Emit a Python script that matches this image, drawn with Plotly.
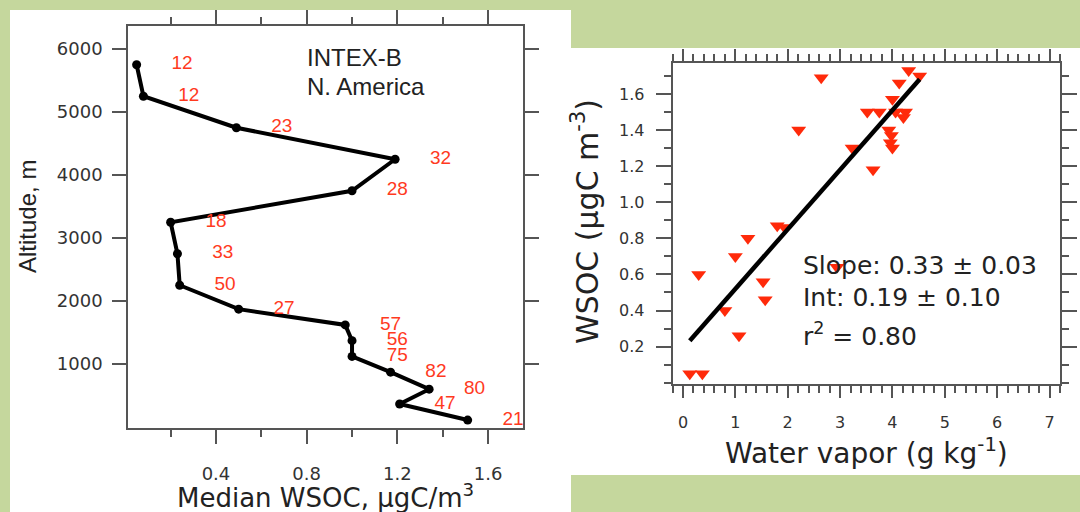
import plotly.graph_objects as go

# ---- Left panel: median WSOC vertical profile (INTEX-B, N. America) ----
altitude_m = [5750, 5250, 4750, 4250, 3750, 3250, 2750, 2250, 1870, 1620, 1370, 1120, 870, 600, 365, 110]
median_wsoc = [0.05, 0.08, 0.49, 1.19, 1.00, 0.20, 0.23, 0.24, 0.50, 0.97, 1.00, 1.00, 1.17, 1.34, 1.21, 1.51]
sample_counts = [12, 12, 23, 32, 28, 18, 33, 50, 27, 57, 56, 75, 82, 80, 47, 21]
altitude_ticks = [1000, 2000, 3000, 4000, 5000, 6000]
wsoc_ticks = [0.4, 0.8, 1.2, 1.6]

# ---- Right panel: WSOC against water vapor with a linear fit ----
water_vapor = [2.64, 4.31, 4.52, 4.13, 4.00, 3.52, 3.75, 4.06, 4.25, 4.21,
               2.21, 3.93, 3.98, 3.96, 4.00, 3.23, 3.63, 1.80, 1.94, 1.24,
               1.00, 0.30, 1.53, 1.57, 0.80, 1.07, 0.13, 0.37, 2.94]
wsoc = [1.69, 1.73, 1.70, 1.66, 1.57, 1.50, 1.50, 1.50, 1.50, 1.47,
        1.40, 1.40, 1.37, 1.33, 1.30, 1.30, 1.18, 0.87, 0.86, 0.80,
        0.70, 0.60, 0.56, 0.46, 0.40, 0.26, 0.05, 0.05, 0.64]
fit_slope = 0.33
fit_intercept = 0.19
fit_x = [0.13, 4.52]
fit_y = [fit_intercept + fit_slope * v for v in fit_x]
vapor_ticks = [0, 1, 2, 3, 4, 5, 6, 7]
wsoc_scatter_ticks = [0.2, 0.4, 0.6, 0.8, 1.0, 1.2, 1.4, 1.6]

W, H = 1080, 512
GREEN = "#c5d79d"
RED_TEXT = "#ff3a1e"
RED_MARK = "#ff2a0a"
INK = "#222222"
TICK_INK = "#333333"
AXIS = "#555555"
NARROW = "Liberation Sans, Arial, sans-serif"
WIDE = "DejaVu Sans, sans-serif"


def fx(px):
    return px / W


def fy(py):
    return 1 - py / H


fig = go.Figure()

fig.add_trace(go.Scatter(
    x=median_wsoc, y=altitude_m, mode="lines+markers",
    line=dict(color="black", width=4),
    marker=dict(color="black", size=9),
    xaxis="x", yaxis="y", showlegend=False, hoverinfo="skip",
))
fig.add_trace(go.Scatter(
    x=[v + 0.2 for v in median_wsoc], y=altitude_m, mode="text",
    text=[str(n) for n in sample_counts], textposition="middle center",
    textfont=dict(color=RED_TEXT, size=19, family=NARROW),
    xaxis="x", yaxis="y", showlegend=False, hoverinfo="skip",
))

fig.add_trace(go.Scatter(
    x=water_vapor, y=wsoc, mode="markers",
    marker=dict(symbol="triangle-down", color=RED_MARK, size=13, line=dict(width=0)),
    xaxis="x2", yaxis="y2", showlegend=False, hoverinfo="skip",
))
fig.add_trace(go.Scatter(
    x=fit_x, y=fit_y, mode="lines",
    line=dict(color="black", width=4.5),
    xaxis="x2", yaxis="y2", showlegend=False, hoverinfo="skip",
))

axis_common = dict(
    showline=True, linecolor=AXIS, linewidth=1.5, mirror="ticks",
    ticks="outside", tickcolor=AXIS, tickwidth=1.5,
    showgrid=False, zeroline=False,
)

fig.update_layout(
    width=W, height=H,
    margin=dict(l=0, r=0, t=0, b=0),
    paper_bgcolor=GREEN, plot_bgcolor="white",
    font=dict(family=NARROW, color=INK),
    xaxis=dict(
        domain=[fx(128), fx(523)], range=[0.012, 1.754], anchor="y",
        tickvals=wsoc_ticks, ticktext=[f"{v:.1f}" for v in wsoc_ticks], ticklen=14,
        minor=dict(dtick=0.2, tick0=0.2, ticklen=7, tickcolor=AXIS, tickwidth=1.5, ticks="outside"),
        tickfont=dict(size=18, color=TICK_INK, family=WIDE), ticklabelstandoff=15,
        **axis_common,
    ),
    yaxis=dict(
        domain=[fy(428), fy(26)], range=[-16, 6365], anchor="x",
        tickvals=altitude_ticks, ticklen=14,
        tickfont=dict(size=18, color=TICK_INK, family=WIDE), ticklabelstandoff=6,
        **axis_common,
    ),
    xaxis2=dict(
        domain=[fx(672.5), fx(1060)], range=[-0.2, 7.2], anchor="y2",
        tickvals=vapor_ticks, ticklen=12,
        minor=dict(dtick=0.2, tick0=0, ticklen=7, tickcolor=AXIS, tickwidth=1.5, ticks="outside"),
        tickfont=dict(size=16, color=TICK_INK, family=WIDE), ticklabelstandoff=11,
        **axis_common,
    ),
    yaxis2=dict(
        domain=[fy(384), fy(62.7)], range=[-0.007, 1.773], anchor="x2",
        tickvals=wsoc_scatter_ticks, ticktext=[f"{v:.1f}" for v in wsoc_scatter_ticks], ticklen=15,
        minor=dict(dtick=0.1, tick0=0.1, ticklen=7, tickcolor=AXIS, tickwidth=1.5, ticks="outside"),
        tickfont=dict(size=16, color=TICK_INK, family=WIDE), ticklabelstandoff=8,
        **axis_common,
    ),
    shapes=[
        dict(type="rect", xref="paper", yref="paper", x0=fx(10), x1=fx(571), y0=fy(512), y1=fy(10),
             fillcolor="white", line=dict(width=0), layer="below"),
        dict(type="rect", xref="paper", yref="paper", x0=fx(571), x1=fx(1080), y0=fy(475), y1=fy(48),
             fillcolor="white", line=dict(width=0), layer="below"),
    ],
)

annotations = [
    # left panel titles and legend text
    dict(text="Altitude, m", x=fx(27), y=fy(217), textangle=-90, font=dict(size=24)),
    dict(text="Median WSOC, µgC/m<sup>3</sup>", x=fx(325), y=fy(496), font=dict(size=26, family=WIDE)),
    dict(text="INTEX-B", x=fx(305), y=fy(57), xanchor="left", font=dict(size=24)),
    dict(text="N. America", x=fx(305), y=fy(86), xanchor="left", font=dict(size=24)),
    # right panel titles and fit statistics
    dict(text="WSOC (µgC m<sup>-3</sup>)", x=fx(585), y=fy(222), textangle=-90, font=dict(size=30, family=WIDE)),
    dict(text="Water vapor (g kg<sup>-1</sup>)", x=fx(866), y=fy(451), font=dict(size=28, family=WIDE)),
    dict(text="Slope: 0.33 ± 0.03", x=fx(801), y=fy(265), xanchor="left", font=dict(size=25, family=WIDE)),
    dict(text="Int: 0.19 ± 0.10", x=fx(801), y=fy(297), xanchor="left", font=dict(size=25, family=WIDE)),
    dict(text="r<sup>2</sup> = 0.80", x=fx(801), y=fy(334), xanchor="left", font=dict(size=25, family=WIDE)),
]
for a in annotations:
    a.setdefault("xanchor", "center")
    a.update(xref="paper", yref="paper", yanchor="middle", showarrow=False)
fig.update_layout(annotations=annotations)

fig.write_html("out.html")
